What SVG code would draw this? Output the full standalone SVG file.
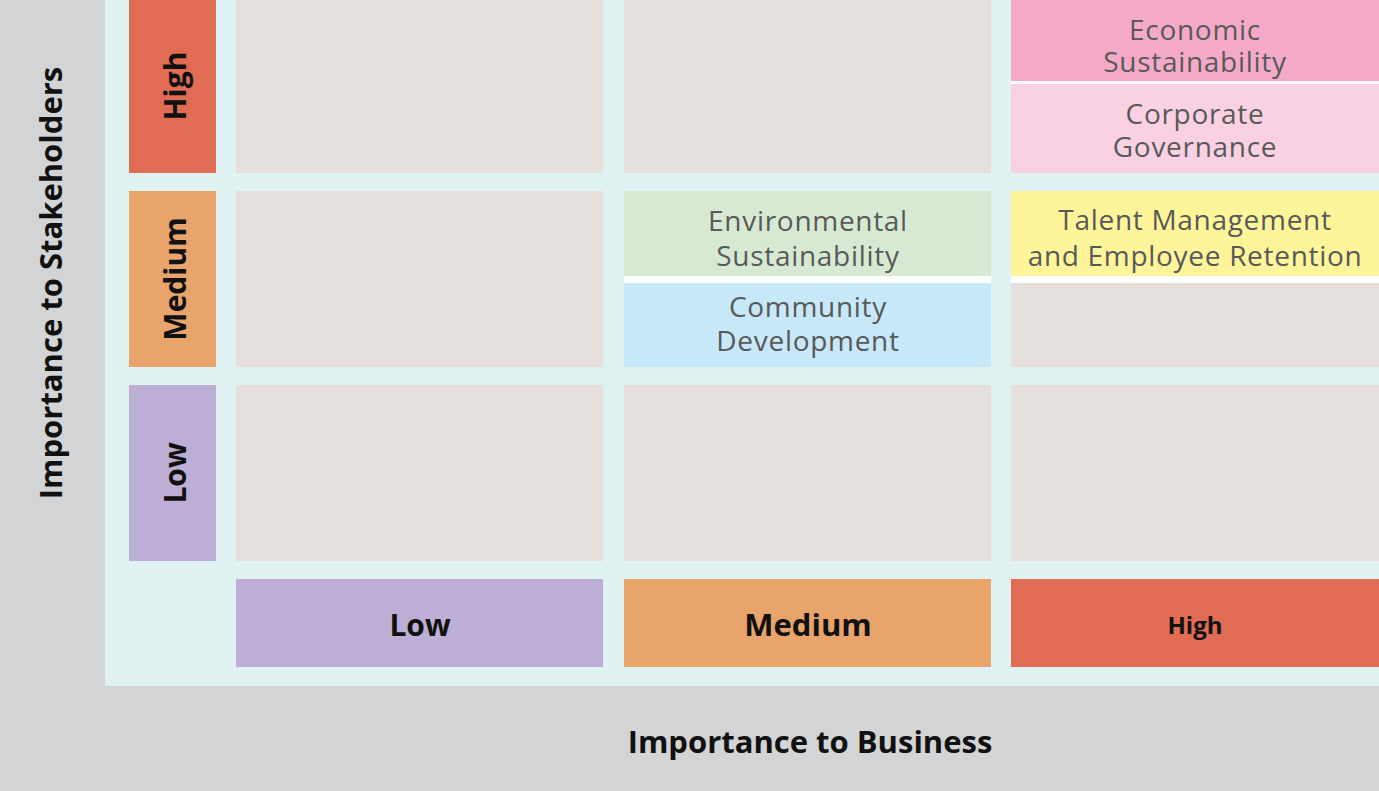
<svg xmlns="http://www.w3.org/2000/svg" width="1379" height="791" viewBox="0 0 1379 791">
<style>
.cell{fill:#e5e0dc}
.t{font-family:"Open Sans","Noto Sans",sans-serif;font-size:28px;letter-spacing:0.7px;fill:#595959;text-anchor:middle}
.lab{font-family:"Open Sans","Noto Sans",sans-serif;font-weight:bold;fill:#111;text-anchor:middle}
.hi{fill:#e06c53}
.md{fill:#e8a46a}
.lo{fill:#bcaed4}
</style>
<rect x="0" y="0" width="1379" height="791" fill="#d3d4d6"/>
<rect x="105" y="0" width="1274" height="686" fill="#e0f2f2"/>
<g id="axis-stakeholders"><text class="lab" font-size="31" transform="translate(62,283) rotate(-90)">Importance to Stakeholders</text></g>
<g id="axis-business"><text class="lab" font-size="31" x="810" y="753">Importance to Business</text></g>
<g id="row-high"><rect class="hi" x="129" y="0" width="87" height="173"/><text class="lab" font-size="30" transform="translate(186,86) rotate(-90)">High</text></g>
<g id="row-medium"><rect class="md" x="129" y="191" width="87" height="176"/><text class="lab" font-size="30" transform="translate(186,279) rotate(-90)">Medium</text></g>
<g id="row-low"><rect class="lo" x="129" y="385" width="87" height="176"/><text class="lab" font-size="30" transform="translate(186,473) rotate(-90)">Low</text></g>
<g id="col-low"><rect class="lo" x="236" y="579" width="367" height="88"/><text class="lab" font-size="30" x="420" y="636">Low</text></g>
<g id="col-medium"><rect class="md" x="624" y="579" width="367" height="88"/><text class="lab" font-size="31" x="808" y="636">Medium</text></g>
<g id="col-high"><rect class="hi" x="1011" y="579" width="368" height="88"/><text class="lab" font-size="24" x="1195" y="634">High</text></g>
<g id="cell-high-low"><rect class="cell" x="236" y="0" width="367" height="173"/></g>
<g id="cell-high-medium"><rect class="cell" x="624" y="0" width="367" height="173"/></g>
<g id="cell-high-high">
<rect x="1011" y="0" width="368" height="173" fill="#ffffff"/>
<rect x="1011" y="0" width="368" height="81" fill="#f5a9c9"/>
<rect x="1011" y="84" width="368" height="89" fill="#f9d1e2"/>
</g>
<g id="economic-sustainability"><text class="t" x="1195" y="40">Economic</text><text class="t" x="1195" y="72">Sustainability</text></g>
<g id="corporate-governance"><text class="t" x="1195" y="124">Corporate</text><text class="t" x="1195" y="157">Governance</text></g>
<g id="cell-medium-low"><rect class="cell" x="236" y="191" width="367" height="176"/></g>
<g id="cell-medium-medium">
<rect x="624" y="191" width="367" height="176" fill="#ffffff"/>
<rect x="624" y="191" width="367" height="85" fill="#d8e9d3"/>
<rect x="624" y="283" width="367" height="84" fill="#c6e8f8"/>
</g>
<g id="environmental-sustainability"><text class="t" x="808" y="231">Environmental</text><text class="t" x="808" y="266">Sustainability</text></g>
<g id="community-development"><text class="t" x="808" y="317">Community</text><text class="t" x="808" y="351">Development</text></g>
<g id="cell-medium-high">
<rect x="1011" y="191" width="368" height="176" fill="#ffffff"/>
<rect x="1011" y="191" width="368" height="85" fill="#fef59a"/>
<rect x="1011" y="283" width="368" height="84" class="cell"/>
</g>
<g id="talent-management"><text class="t" x="1195" y="230">Talent Management</text><text class="t" x="1195" y="266">and Employee Retention</text></g>
<g id="cell-low-low"><rect class="cell" x="236" y="385" width="367" height="176"/></g>
<g id="cell-low-medium"><rect class="cell" x="624" y="385" width="367" height="176"/></g>
<g id="cell-low-high"><rect class="cell" x="1011" y="385" width="368" height="176"/></g>
<g id="connectors"/>
</svg>
